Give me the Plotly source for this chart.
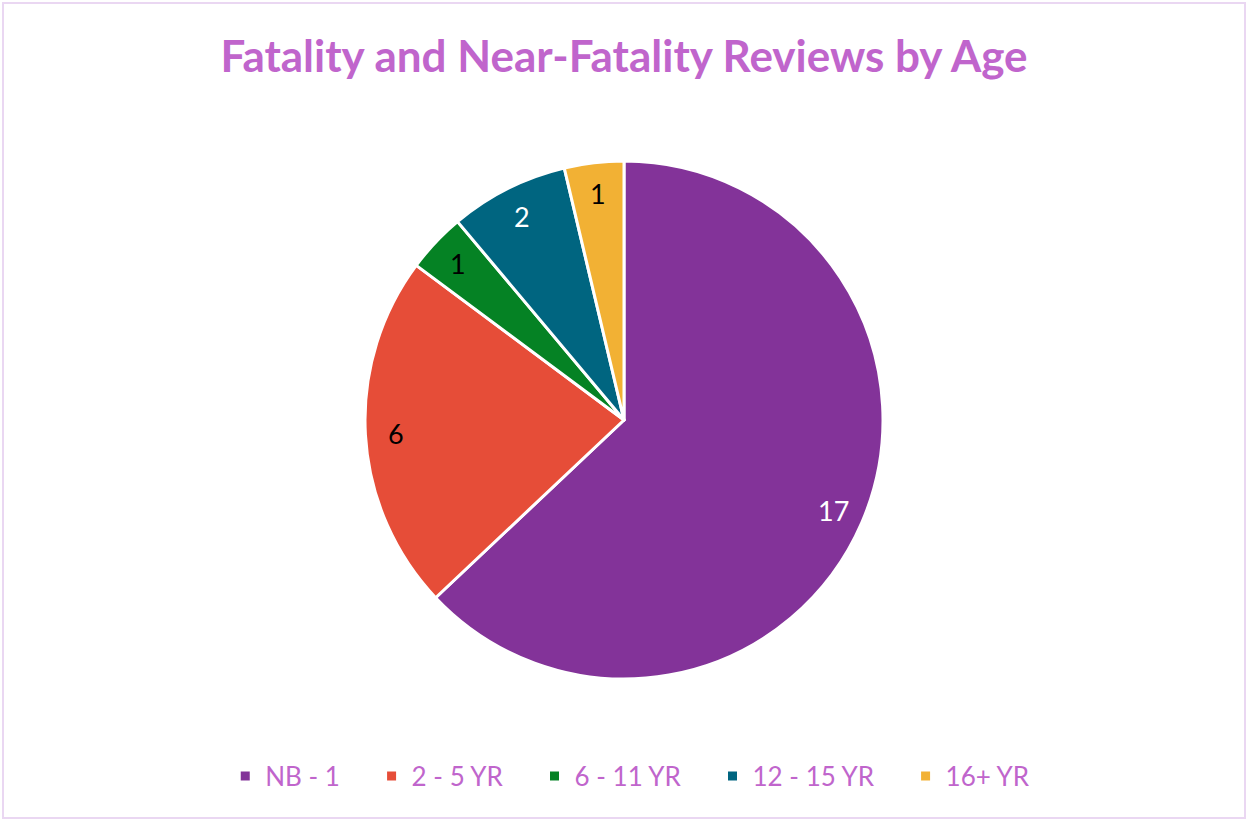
import math
import plotly.graph_objects as go

categories = ["NB - 1", "2 - 5 YR", "6 - 11 YR", "12 - 15 YR", "16+ YR"]
values = [17, 6, 1, 2, 1]
colors = ["#833399", "#E64D38", "#058224", "#006580", "#F2B134"]
label_colors = ["white", "black", "black", "white", "black"]

W, H = 1248, 820
cx_px, cy_px, R_px = 624, 420, 259

# legend labels with extra spacing between entries (as in the reference)
legend_labels = [c + "\u00a0" * 4 for c in categories[:-1]] + [categories[-1]]

fig = go.Figure()
fig.add_trace(go.Pie(
    labels=legend_labels, values=values, sort=False, direction="clockwise",
    rotation=0, textinfo="none", hovertemplate="%{label}: %{value}<extra></extra>",
    marker=dict(colors=colors, line=dict(color="white", width=3)),
    domain=dict(x=[(cx_px - R_px) / W, (cx_px + R_px) / W],
                y=[(H - cy_px - R_px) / H, (H - cy_px + R_px) / H]),
))

# data labels placed along the bisector of each slice, near the outer edge
total = sum(values)
cum = 0
for v, lc in zip(values, label_colors):
    mid = (cum + v / 2) / total * 2 * math.pi
    cum += v
    r = 0.88 * R_px
    x = cx_px + r * math.sin(mid)
    y = cy_px - r * math.cos(mid)
    fig.add_annotation(x=x / W, y=1 - y / H, xref="paper", yref="paper",
                       xanchor="center", yanchor="middle",
                       text=str(v), showarrow=False,
                       font=dict(family="Lato", size=27, color=lc))

fig.add_shape(type="rect", xref="paper", yref="paper",
              x0=3 / W, x1=1245 / W, y0=1 - 818 / H, y1=1 - 3 / H,
              line=dict(color="#EAD7F2", width=2))

fig.update_layout(
    width=W, height=H,
    margin=dict(l=0, r=0, t=0, b=0),
    paper_bgcolor="white", plot_bgcolor="white",
    title=dict(text="<b>Fatality and Near-Fatality Reviews by Age</b>",
               x=0.5, xanchor="center", y=1 - 57 / H, yanchor="middle",
               font=dict(family="Lato", size=44, color="#C065CC")),
    showlegend=True,
    legend=dict(orientation="h", x=0.505, xanchor="center",
                y=1 - 776 / H, yanchor="middle",
                font=dict(family="Lato", size=26, color="#C065CC"),
                itemwidth=30, tracegroupgap=0),
)

fig.write_html("out.html", config={"displayModeBar": False},
               post_script="document.body.style.margin='0';document.body.style.overflow='hidden';")
